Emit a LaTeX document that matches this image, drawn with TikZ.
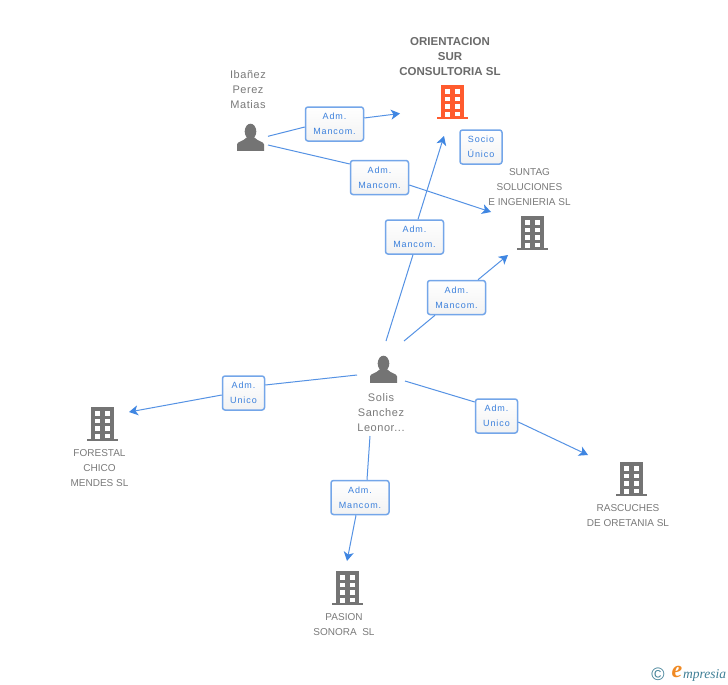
\documentclass[tikz,border=0pt]{standalone}
\usepackage{fontspec}
\setmainfont{Liberation Sans}
\newfontfamily\spaced[LetterSpace=10]{Liberation Sans}
\newfontfamily\namefont[LetterSpace=5]{Liberation Sans}
\newfontfamily\logofont{Liberation Serif}
\usetikzlibrary{arrows.meta}
\definecolor{linkblue}{HTML}{5592E4}
\definecolor{tipblue}{HTML}{3F86E2}
\definecolor{boxedge}{HTML}{74A6E9}
\definecolor{boxtext}{HTML}{3B80DC}
\definecolor{icongray}{HTML}{747474}
\definecolor{textgray}{HTML}{7A7A7A}
\definecolor{titlegray}{HTML}{6B6B6B}
\definecolor{orangeicon}{HTML}{FF5B2E}
\definecolor{logoteal}{HTML}{3F7F96}
\definecolor{logoorange}{HTML}{F08A24}
\tikzset{
  x=1pt,y=-1pt,
  linkbox/.style={draw=boxedge,line width=1.5pt,rounded corners=2.5pt,top color=white,bottom color=white!95!black,
    minimum height=34pt,inner sep=0pt,align=center,text=boxtext,
    font=\spaced\fontsize{9}{15}\selectfont},
  wide/.style={minimum width=58pt},
  narrow/.style={minimum width=42pt},
  link/.style={draw=linkblue,line width=1pt},
  linkend/.style={link,-{Stealth[length=9pt,width=10pt,inset=2.5pt,color=tipblue]}},
  company/.style={align=center,text=textgray,inner sep=0pt,font=\fontsize{10}{15}\selectfont},
  title/.style={align=center,text=titlegray,inner sep=0pt,font=\bfseries\fontsize{11.5}{15}\selectfont},
  personname/.style={align=center,text=textgray,inner sep=0pt,font=\namefont\fontsize{11}{15}\selectfont},
  pics/building/.style={code={
    \fill[#1] (-15.5,14.7) rectangle (16,17);
    \fill[#1] (-11,-17) rectangle (11.5,15);
    \foreach \r in {-13,-5.5,2}{
      \fill[white] (-7.2,\r) rectangle (-2.4,{\r+4.6});
      \fill[white] (2.8,\r) rectangle (7.6,{\r+4.6});
    }
    \fill[white] (-7.2,9.5) rectangle (-2.4,15);
    \fill[white] (2.8,9.5) rectangle (7.6,14);
  }},
  pics/person/.style={code={
    \fill[icongray] (0,-6) ellipse [x radius=5.8,y radius=7.8];
    \fill[icongray] (-13.5,13.3) -- (-13.5,7) .. controls (-13.5,4) and (-7,4) .. (-4,0)
      -- (4,0) .. controls (7,4) and (13.5,4) .. (13.5,7) -- (13.5,13.3) -- cycle;
  }}
}
\begin{document}
\begin{tikzpicture}
\useasboundingbox (0,0) rectangle (728,685);
\fill[white] (0,0) rectangle (728,685);

% link boxes
\node[linkbox,wide]   (b1) at (334.5,124) {Adm.\\Mancom.};
\node[linkbox,wide]   (b2) at (379.5,177.5) {Adm.\\Mancom.};
\node[linkbox,wide]   (b3) at (414.5,237) {Adm.\\Mancom.};
\node[linkbox,wide]   (b4) at (456.5,297.5) {Adm.\\Mancom.};
\node[linkbox,narrow] (b5) at (481,147) {Socio\\Único};
\node[linkbox,narrow] (b6) at (496.5,416) {Adm.\\Unico};
\node[linkbox,narrow] (b7) at (243.5,393) {Adm.\\Unico};
\node[linkbox,wide]   (b8) at (360,497.5) {Adm.\\Mancom.};

% connector ends
\coordinate (ibA) at (268,136.3);
\coordinate (ibB) at (268,145);
\coordinate (soA) at (386,341);
\coordinate (soB) at (404,341);
\coordinate (soC) at (357,375);
\coordinate (soD) at (405,381);
\coordinate (soE) at (370,436);
\coordinate (toOr1) at (400,113.5);
\coordinate (toSu1) at (491,212);
\coordinate (toOr2) at (444,136);
\coordinate (toSu2) at (508,255);
\coordinate (toFo) at (129,412);
\coordinate (toRa) at (588,455);
\coordinate (toPa) at (347,561);

% connectors
\draw[link] (ibA) -- ([yshift=-3pt]b1.west);
\draw[linkend] ([yshift=6pt]b1.east) -- (toOr1);
\draw[link] (ibB) -- ([yshift=13.5pt]b2.west);
\draw[linkend] ([yshift=-7.5pt]b2.east) -- (toSu1);
\draw[link] (soA) -- ([xshift=-1.5pt]b3.south);
\draw[linkend] ([xshift=3.5pt]b3.north) -- (toOr2);
\draw[link] (soB) -- ([xshift=-21.5pt]b4.south);
\draw[linkend] ([xshift=21.5pt]b4.north) -- (toSu2);
\draw[link] (soC) -- ([yshift=8pt]b7.east);
\draw[linkend] ([yshift=-2pt]b7.west) -- (toFo);
\draw[link] (soD) -- ([yshift=14pt]b6.west);
\draw[linkend] ([yshift=-6pt]b6.east) -- (toRa);
\draw[link] (soE) -- ([xshift=7pt]b8.north);
\draw[linkend] ([xshift=-4pt]b8.south) -- (toPa);

% icons
\pic at (452,102) {building=orangeicon};
\pic at (532,233) {building=icongray};
\pic at (102,424) {building=icongray};
\pic at (631,479) {building=icongray};
\pic at (347,588) {building=icongray};
\pic at (250.5,137.5) {person};
\pic at (383.5,369.5) {person};

% names
\node[title] (n1) at (450,56.5) {ORIENTACION\\SUR\\CONSULTORIA SL};
\node[personname] (n2) at (248,90) {Ibañez\\Perez\\Matias};
\node[company] (n3) at (529.5,187.5) {SUNTAG\\SOLUCIONES\\E INGENIERIA SL};
\node[personname] (n4) at (381,412.5) {Solis\\Sanchez\\Leonor...};
\node[company] (n5) at (99.5,468.5) {FORESTAL\\CHICO\\MENDES SL};
\node[company] (n6) at (628,516) {RASCUCHES\\DE ORETANIA SL};
\node[company] (n7) at (344,625) {PASION\\SONORA\ \ SL};

% logo
\node[inner sep=0pt,text=logoteal,font=\fontsize{18}{18}\selectfont] (l1) at (658,674) {©};
\node[inner sep=0pt,text=logoorange,font=\logofont\bfseries\itshape\fontsize{24}{24}\selectfont] (l2) at (677,672) {e};
\node[inner sep=0pt,text=logoteal,anchor=west,font=\logofont\itshape\fontsize{13.5}{13}\selectfont] (l3) at (683,675) {mpresia};
\end{tikzpicture}
\end{document}
